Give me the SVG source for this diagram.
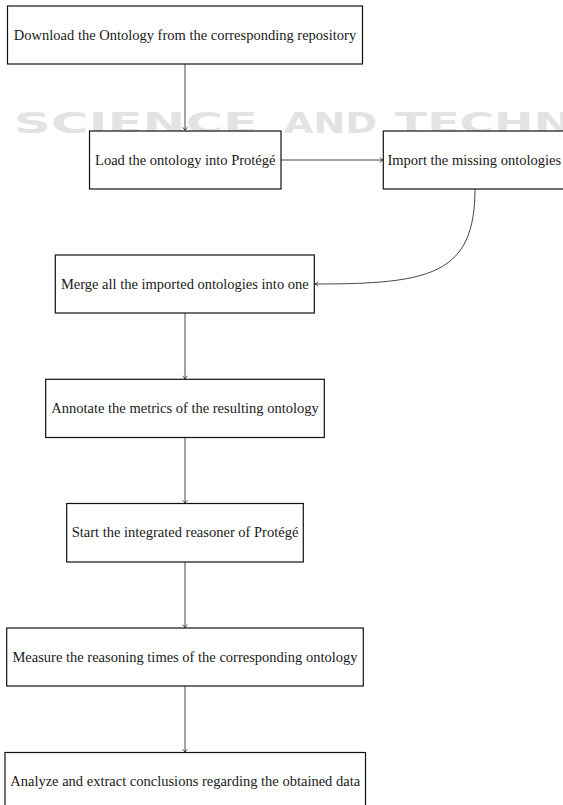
<svg xmlns="http://www.w3.org/2000/svg" width="563" height="805" viewBox="0 0 563 805">
  <defs>
    <marker id="tip" markerUnits="userSpaceOnUse" markerWidth="8" markerHeight="8" viewBox="-4 -4 8 8" refX="0" refY="0" orient="auto">
      <path d="M-3.2,-2.4 Q-1.2,-0.5 0,0 Q-1.2,0.5 -3.2,2.4" fill="none" stroke="#222" stroke-width="0.8"/>
    </marker>
  </defs>
  <style>
    .box { fill: #ffffff; stroke: #111; stroke-width: 1.2; }
    .lbl { font-family: "Liberation Serif", "Times New Roman", serif; font-size: 14.5px; fill: #1a1a1a; text-anchor: middle; }
    .wm { font-family: "DejaVu Sans", "Liberation Sans", sans-serif; font-weight: bold; font-size: 28px; fill: #e3e3e3; }
    .edge { fill: none; stroke: #333; stroke-width: 0.9; marker-end: url(#tip); }
  </style>
  <rect x="0" y="0" width="563" height="805" fill="#ffffff"/>

  <g id="watermark">
    <text class="wm" x="14" y="133" textLength="244" lengthAdjust="spacingAndGlyphs">SCIENCE</text>
    <text class="wm" x="284" y="133" textLength="93" lengthAdjust="spacingAndGlyphs">AND</text>
    <text class="wm" x="395" y="133" textLength="178" lengthAdjust="spacingAndGlyphs">TECHN</text>
  </g>

  <g id="connectors">
    <line class="edge" x1="185" y1="64" x2="185" y2="130.5"/>
    <line class="edge" x1="281" y1="160" x2="383" y2="160"/>
    <path class="edge" d="M475,189 C475,275 430,284 315,284"/>
    <line class="edge" x1="185" y1="313" x2="185" y2="379"/>
    <line class="edge" x1="185" y1="437.5" x2="185" y2="503.3"/>
    <line class="edge" x1="185" y1="562" x2="185" y2="627.8"/>
    <line class="edge" x1="185" y1="686" x2="185" y2="752.3"/>
  </g>

  <g id="n1">
    <rect class="box" x="7.5" y="6" width="355" height="58"/>
    <text class="lbl" x="185" y="39.5">Download the Ontology from the corresponding repository</text>
  </g>
  <g id="n2">
    <rect class="box" x="89.5" y="131" width="191.5" height="58"/>
    <text class="lbl" x="185.3" y="164.5">Load the ontology into Protégé</text>
  </g>
  <g id="n3">
    <rect class="box" x="383.3" y="131" width="182" height="58"/>
    <text class="lbl" x="474.3" y="164.5">Import the missing ontologies</text>
  </g>
  <g id="n4">
    <rect class="box" x="55.3" y="255" width="259" height="58"/>
    <text class="lbl" x="184.8" y="288.5">Merge all the imported ontologies into one</text>
  </g>
  <g id="n5">
    <rect class="box" x="45.7" y="379.3" width="278.6" height="58.2"/>
    <text class="lbl" x="185" y="412.8">Annotate the metrics of the resulting ontology</text>
  </g>
  <g id="n6">
    <rect class="box" x="66.7" y="503.5" width="236.6" height="58.5"/>
    <text class="lbl" x="185" y="537">Start the integrated reasoner of Protégé</text>
  </g>
  <g id="n7">
    <rect class="box" x="6.7" y="628" width="356.6" height="58"/>
    <text class="lbl" x="185" y="661.5">Measure the reasoning times of the corresponding ontology</text>
  </g>
  <g id="n8">
    <rect class="box" x="5" y="752.5" width="360.5" height="58"/>
    <text class="lbl" x="185.2" y="786">Analyze and extract conclusions regarding the obtained data</text>
  </g>
</svg>
